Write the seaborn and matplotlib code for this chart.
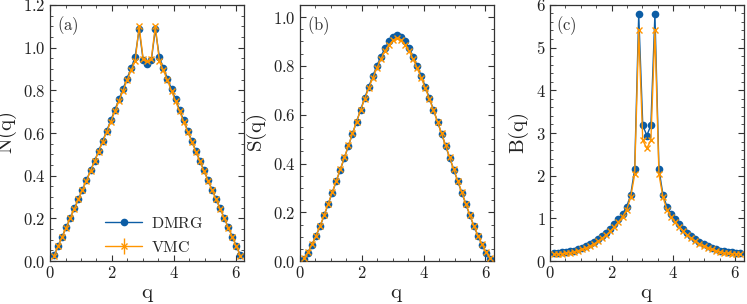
import numpy as np
import pandas as pd
import matplotlib
matplotlib.use('Agg')
import matplotlib.pyplot as plt
import seaborn as sns
from matplotlib.ticker import MultipleLocator, FuncFormatter

# chain of 48 sites, momenta q = 2*pi*k/L for k = 1..47
L = 48
k = np.arange(1, L)
q = 2 * np.pi * k / L

def mirror(half):
    # values read for k = 1..24, the curves are symmetric around q = pi
    return half + half[-2::-1]

n_dmrg = mirror([0.027, 0.071, 0.115, 0.159, 0.203, 0.247, 0.291, 0.335, 0.380, 0.425,
                 0.470, 0.516, 0.563, 0.611, 0.659, 0.708, 0.757, 0.806, 0.855, 0.903,
                 0.956, 1.085, 0.940, 0.925])
n_vmc = mirror([0.025, 0.069, 0.113, 0.157, 0.201, 0.245, 0.289, 0.333, 0.377, 0.422,
                0.467, 0.513, 0.559, 0.606, 0.653, 0.701, 0.749, 0.797, 0.846, 0.893,
                0.935, 1.100, 0.945, 0.935])

s_dmrg = mirror([0.010, 0.034, 0.067, 0.103, 0.142, 0.187, 0.233, 0.280, 0.327, 0.375,
                 0.423, 0.472, 0.522, 0.571, 0.620, 0.668, 0.714, 0.758, 0.800, 0.838,
                 0.872, 0.900, 0.919, 0.928])
s_vmc = mirror([0.012, 0.036, 0.069, 0.105, 0.144, 0.189, 0.235, 0.282, 0.329, 0.377,
                0.425, 0.474, 0.523, 0.571, 0.618, 0.664, 0.708, 0.750, 0.790, 0.827,
                0.860, 0.886, 0.904, 0.913])

b_dmrg = mirror([0.197, 0.199, 0.204, 0.214, 0.228, 0.248, 0.274, 0.306, 0.345, 0.392,
                 0.446, 0.508, 0.580, 0.662, 0.755, 0.860, 0.975, 1.100, 1.270, 1.545,
                 2.150, 5.780, 3.180, 2.940])
b_vmc = mirror([0.170, 0.172, 0.177, 0.186, 0.199, 0.218, 0.243, 0.273, 0.310, 0.355,
                0.406, 0.466, 0.535, 0.613, 0.702, 0.802, 0.915, 1.035, 1.200, 1.490,
                2.030, 5.400, 2.830, 2.640])

panels = [
    ('(a)', 'N(q)', n_dmrg, n_vmc, 1.2, 0.2, 0.05),
    ('(b)', 'S(q)', s_dmrg, s_vmc, 1.05, 0.2, 0.05),
    ('(c)', 'B(q)', b_dmrg, b_vmc, 6.0, 1.0, 0.2),
]

blue = '#0C5DA5'
orange = '#FF9500'

sns.set_style('ticks')
plt.rcParams['font.family'] = ['DejaVu Serif']
plt.rcParams['mathtext.fontset'] = 'cm'
plt.rcParams['axes.edgecolor'] = '#333333'
plt.rcParams['axes.linewidth'] = 0.9

fig, axes = plt.subplots(1, 3, figsize=(7.47, 3.04), dpi=100)
fig.subplots_adjust(left=0.067, right=0.996, top=0.984, bottom=0.141, wspace=0.285)

for ax, (tag, ylab, dmrg, vmc, ytop, ymaj, ymin) in zip(axes, panels):
    df = pd.DataFrame({'q': q, 'dmrg': dmrg, 'vmc': vmc})
    sns.lineplot(data=df, x='q', y='dmrg', ax=ax, color=blue, marker='o',
                 markersize=5.5, markeredgewidth=0, linewidth=1.0, zorder=2)
    h_vmc = ax.errorbar(df['q'], df['vmc'], yerr=np.zeros(len(df)), color=orange,
                        marker='x', markersize=5, markeredgewidth=1.0, linewidth=1.0,
                        elinewidth=1.0, zorder=3)
    ax.set_xlim(0, 2 * np.pi)
    ax.set_ylim(0, ytop)
    ax.xaxis.set_major_locator(MultipleLocator(2))
    ax.xaxis.set_minor_locator(MultipleLocator(0.5))
    ax.yaxis.set_major_locator(MultipleLocator(ymaj))
    ax.yaxis.set_minor_locator(MultipleLocator(ymin))
    ax.xaxis.set_major_formatter(FuncFormatter(lambda v, p: f'${v:.0f}$'))
    if ymaj < 1:
        ax.yaxis.set_major_formatter(FuncFormatter(lambda v, p: f'${v:.1f}$'))
    else:
        ax.yaxis.set_major_formatter(FuncFormatter(lambda v, p: f'${v:.0f}$'))
    ax.tick_params(which='both', direction='in', top=True, right=True,
                   labelsize=12, color='#333333', labelcolor='#222222')
    ax.tick_params(which='major', length=4.5, width=0.8, pad=3)
    ax.tick_params(which='minor', length=2.5, width=0.6)
    ax.set_xlabel(r'$\mathrm{q}$', fontsize=15, labelpad=2, color='#222222')
    ax.set_ylabel(r'$\mathrm{' + ylab + '}$', fontsize=15, labelpad=3, color='#222222')
    ax.text(0.035, 0.965, r'$\mathrm{' + tag + '}$', transform=ax.transAxes,
            va='top', ha='left', fontsize=12, color='#333333')
    if tag == '(a)':
        h_dmrg = ax.get_lines()[0]
        ax.legend([h_dmrg, h_vmc], [r'$\mathrm{DMRG}$', r'$\mathrm{VMC}$'],
                  loc='lower left', bbox_to_anchor=(0.21, -0.035), frameon=False,
                  fontsize=11.5, handlelength=2.3, handletextpad=0.55, labelspacing=0.45)

fig.savefig('out.png', dpi=100)
